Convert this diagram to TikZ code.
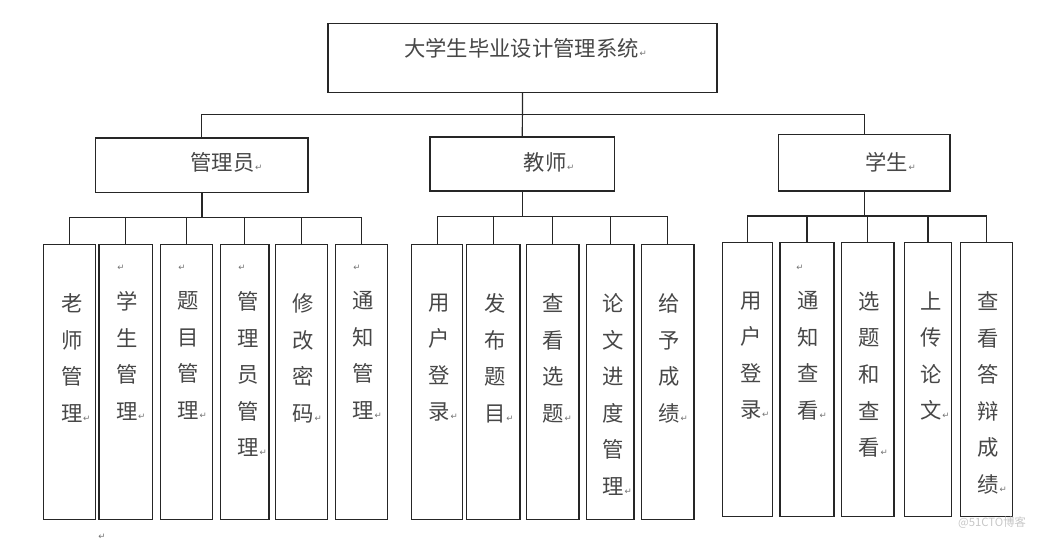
\documentclass[tikz,border=0pt]{standalone}
\usepackage{fontspec}
\usepackage{xcolor}
\usepackage{tikz}
\newfontfamily\cjk{Noto Sans CJK SC}
\newfontfamily\markfont{DejaVu Sans}
\newcommand{\enter}{\rlap{\hspace{0.5pt}\color{black!55}\markfont\fontsize{6.5}{6.5}\selectfont ↵}}
\tikzset{ sz/.style 2 args = {minimum width=#1*0.75pt, minimum height=#2*0.75pt} }
\tikzset{ sys_box/.style = {rectangle, draw=black!85, line width=0.9pt, inner sep=0pt, outer sep=0pt} }
\tikzset{ head_text/.style = {inner sep=0pt, text=black!72, font=\cjk\fontsize{16}{16}\selectfont} }
\tikzset{ vert_text/.style = {anchor=north, align=center, inner sep=0pt, text=black!72, font=\cjk\fontsize{16}{27.4}\selectfont} }
\tikzset{ mark_text/.style = {inner sep=0pt, text=black!55, font=\markfont\fontsize{6.5}{6.5}\selectfont} }

\begin{document}
\begin{tikzpicture}[x=0.75pt, y=-0.75pt, line width=0.9pt, draw=black!85]
    \useasboundingbox (0,0) rectangle (1046,540);
    % top level
    \node[sys_box, sz={389}{69}] (sys) at (522.5,57.7) {};
    \node[sys_box, sz={212.7}{54.3}] (admin) at (201.7,165.2) {};
    \node[sys_box, sz={184.7}{54}] (teach) at (522.3,164) {};
    \node[sys_box, sz={171.3}{56.3}] (stu) at (864.3,162.8) {};
    \node[head_text] (sys_t) at (521.5,48) {大学生毕业设计管理系统\enter};
    \node[head_text] (admin_t) at (222.5,162) {管理员\enter};
    \node[head_text] (teach_t) at (545,162) {教师\enter};
    \node[head_text] (stu_t) at (886.5,162) {学生\enter};
    \draw (sys.south) -- ++(0,22) -| (admin.north);
    \draw (sys.south) -- (teach.north);
    \draw (sys.south) -- ++(0,22) -| (stu.north);

    % leaves
    \foreach \n/\x/\w in {a1/69.5/51.6, a2/125.8/53.7, a3/186.5/52.4, a4/244.7/48.7, a5/301.5/52.4, a6/361.5/52.4}
        \node[sys_box, sz={\w}{275}] (\n) at (\x,381.8) {};
    \foreach \n/\x/\w in {t1/437.2/51, t2/493.3/53.3, t3/552.8/52.3, t4/610.3/47.3, t5/667.8/52.3}
        \node[sys_box, sz={\w}{275}] (\n) at (\x,381.8) {};
    \foreach \n/\x/\w in {s1/747.7/50, s2/807/54, s3/867.8/52.3, s4/928/47.4, s5/986.7/52}
        \node[sys_box, sz={\w}{274.4}] (\n) at (\x,379.5) {};

    \foreach \n in {a1,a2,a3,a4,a5,a6}
        \draw (admin.south) -- ++(0,25) -| (\n.north);
    \draw[line width=1.8pt] (admin.south) -- ++(0,25);
    \foreach \n in {t1,t2,t3,t4,t5}
        \draw (teach.south) -- ++(0,25.7) -| (\n.north);
    \foreach \n in {s1,s2,s3,s4,s5}
        \draw (stu.south) -- ++(0,25) -| (\n.north);

    % leaf texts
    \node[vert_text] (a1_t) at (71.7,293) {老\\师\\管\\理\enter};
    \node[vert_text] (a2_t) at (126.7,291) {学\\生\\管\\理\enter};
    \node[vert_text] (a3_t) at (188.3,291) {题\\目\\管\\理\enter};
    \node[vert_text] (a4_t) at (248.3,291) {管\\理\\员\\管\\理\enter};
    \node[vert_text] (a5_t) at (303.3,293) {修\\改\\密\\码\enter};
    \node[vert_text] (a6_t) at (363.3,291) {通\\知\\管\\理\enter};
    \node[vert_text] (t1_t) at (439.3,293) {用\\户\\登\\录\enter};
    \node[vert_text] (t2_t) at (495,293) {发\\布\\题\\目\enter};
    \node[vert_text] (t3_t) at (553.3,293) {查\\看\\选\\题\enter};
    \node[vert_text] (t4_t) at (613.3,293) {论\\文\\进\\度\\管\\理\enter};
    \node[vert_text] (t5_t) at (669.3,293) {给\\予\\成\\绩\enter};
    \node[vert_text] (s1_t) at (750.7,291) {用\\户\\登\\录\enter};
    \node[vert_text] (s2_t) at (808.3,291) {通\\知\\查\\看\enter};
    \node[vert_text] (s3_t) at (869.3,291) {选\\题\\和\\查\\看\enter};
    \node[vert_text] (s4_t) at (931,291) {上\\传\\论\\文\enter};
    \node[vert_text] (s5_t) at (988.3,291) {查\\看\\答\\辩\\成\\绩\enter};

    % paragraph marks
    \node[mark_text] (a2_m) at (121,268) {↵};
    \node[mark_text] (a3_m) at (182,268) {↵};
    \node[mark_text] (a4_m) at (242,268) {↵};
    \node[mark_text] (a6_m) at (357,268) {↵};
    \node[mark_text] (s2_m) at (800,268) {↵};
    \node[mark_text] (end_m) at (102,537) {↵};
    \node[inner sep=0pt, text=black!22, font=\cjk\fontsize{8.5}{8.5}\selectfont] (wm) at (992,523) {@51CTO博客};
\end{tikzpicture}
\end{document}
